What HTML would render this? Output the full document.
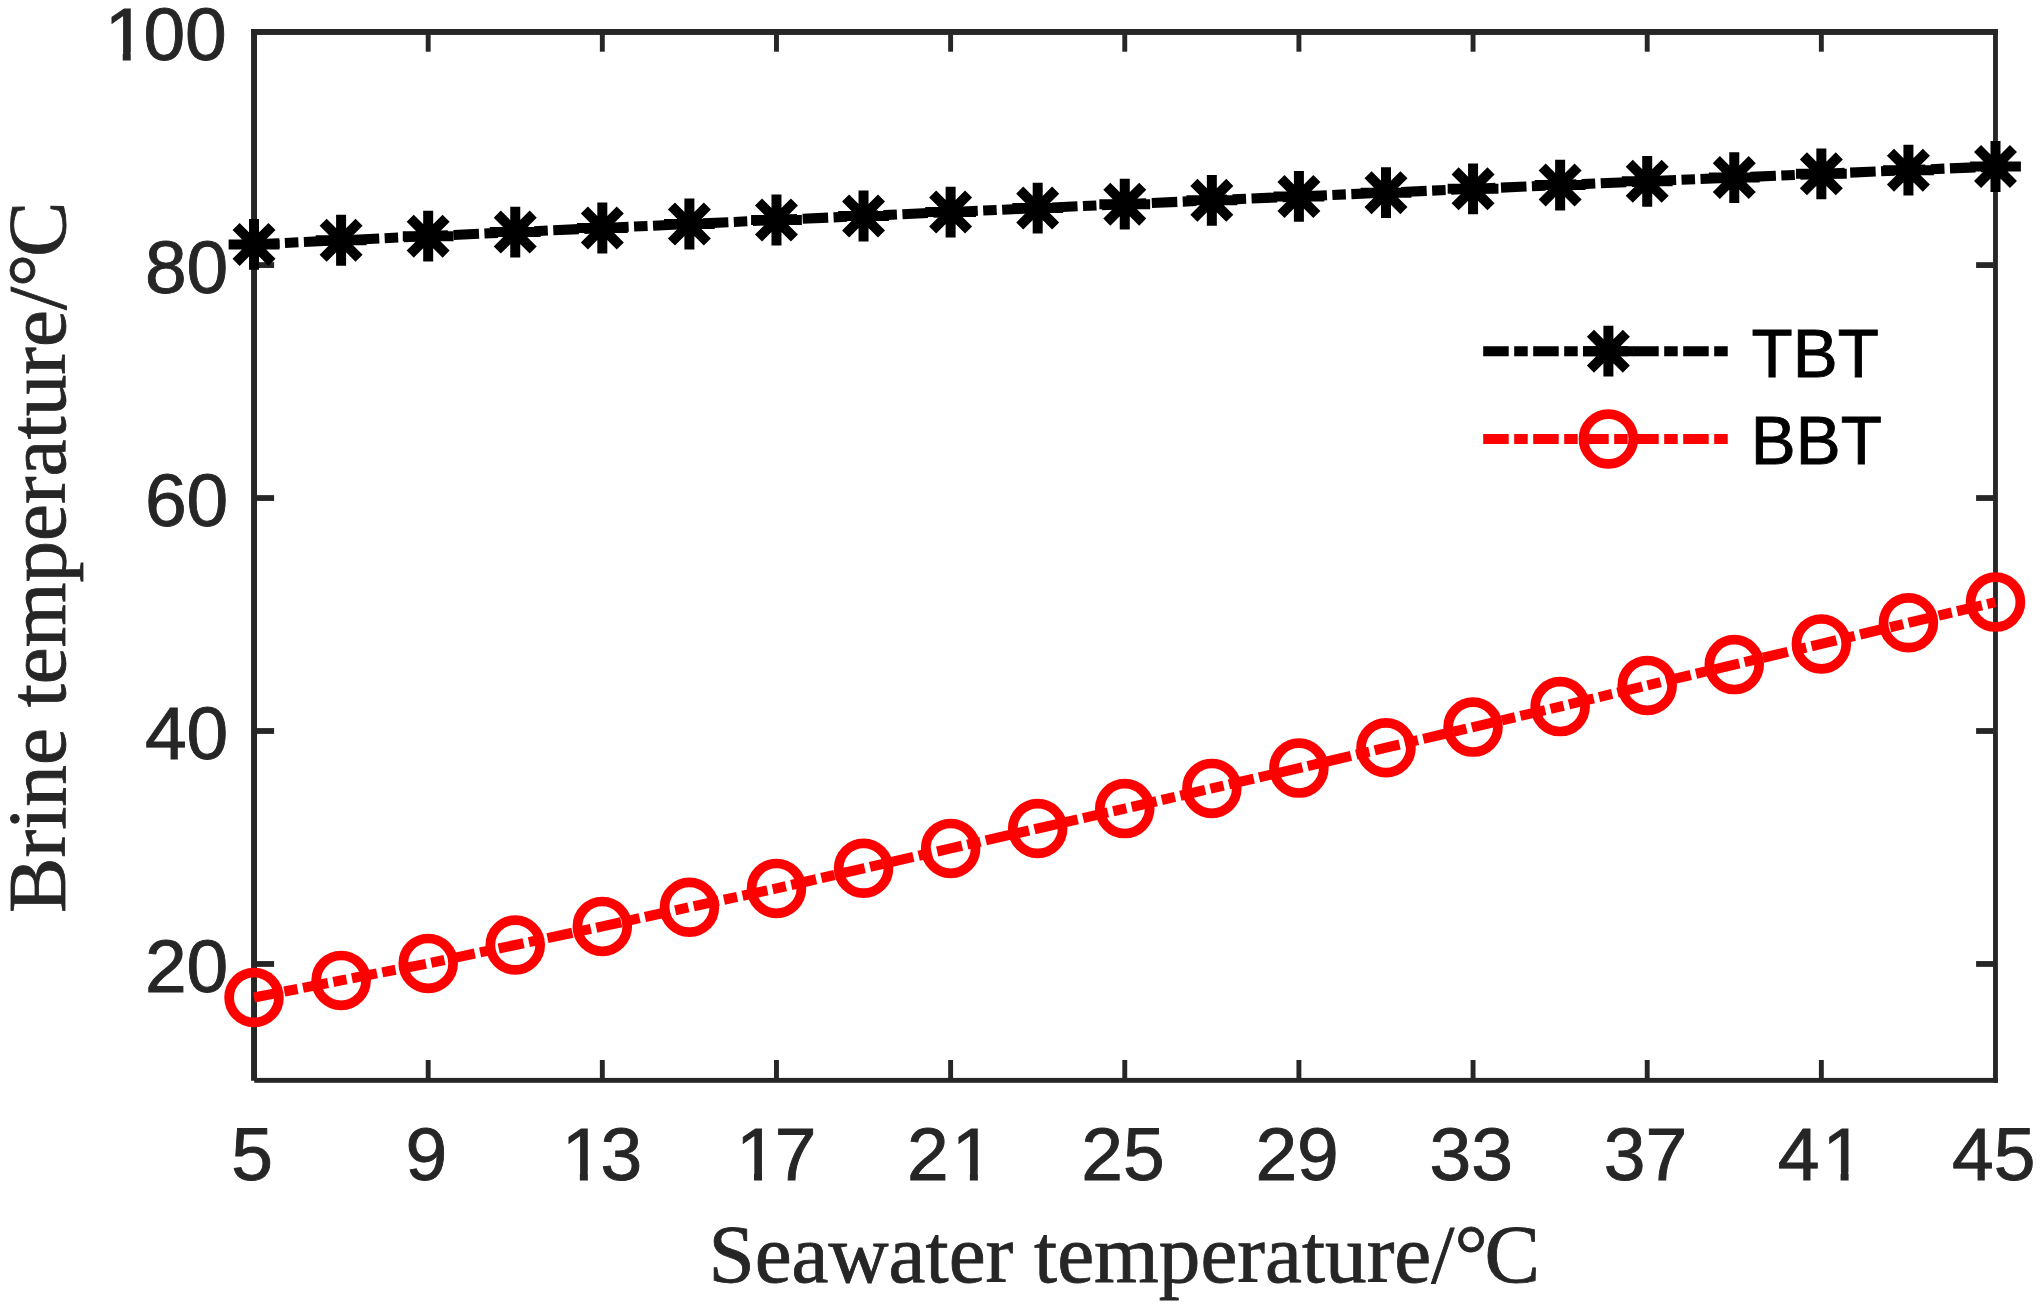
<!DOCTYPE html>
<html lang="en"><head><meta charset="utf-8"><title>Brine temperature vs seawater temperature</title>
<style>html,body{margin:0;padding:0;background:#fff}body{width:2044px;height:1310px;overflow:hidden}svg{display:block}.t{font-family:"Liberation Sans",Arial,Helvetica,sans-serif;font-size:75px;fill:#262626;stroke:#262626;stroke-width:0.9px}.l{font-family:"Liberation Sans",Arial,Helvetica,sans-serif;font-size:66.7px;fill:#000;stroke:#000;stroke-width:0.9px}.s{font-family:"Liberation Serif","Times New Roman",Times,serif;font-size:83.2px;fill:#262626;stroke:#262626;stroke-width:0.8px}</style></head><body>
<svg width="2044" height="1310" viewBox="0 0 2044 1310">
<rect x="0" y="0" width="2044" height="1310" fill="#fff"/>
<g fill="#262626" stroke="none">
<rect x="251.06" y="29.00" width="1746.84" height="5.95"/>
<rect x="251.06" y="29.00" width="5.94" height="1051.75"/>
<rect x="254.20" y="1077.90" width="1743.70" height="4.90"/>
<rect x="1993.05" y="29.00" width="4.85" height="1053.80"/>
<rect x="425.73" y="1060.00" width="4.90" height="18.50"/>
<rect x="425.73" y="34.50" width="4.90" height="17.20"/>
<rect x="599.87" y="1060.00" width="4.90" height="18.50"/>
<rect x="599.87" y="34.50" width="4.90" height="17.20"/>
<rect x="774.02" y="1060.00" width="4.90" height="18.50"/>
<rect x="774.02" y="34.50" width="4.90" height="17.20"/>
<rect x="948.17" y="1060.00" width="4.90" height="18.50"/>
<rect x="948.17" y="34.50" width="4.90" height="17.20"/>
<rect x="1122.32" y="1060.00" width="4.90" height="18.50"/>
<rect x="1122.32" y="34.50" width="4.90" height="17.20"/>
<rect x="1296.46" y="1060.00" width="4.90" height="18.50"/>
<rect x="1296.46" y="34.50" width="4.90" height="17.20"/>
<rect x="1470.61" y="1060.00" width="4.90" height="18.50"/>
<rect x="1470.61" y="34.50" width="4.90" height="17.20"/>
<rect x="1644.76" y="1060.00" width="4.90" height="18.50"/>
<rect x="1644.76" y="34.50" width="4.90" height="17.20"/>
<rect x="1818.90" y="1060.00" width="4.90" height="18.50"/>
<rect x="1818.90" y="34.50" width="4.90" height="17.20"/>
<rect x="256.50" y="961.07" width="17.60" height="5.80"/>
<rect x="1976.10" y="961.07" width="17.40" height="5.80"/>
<rect x="256.50" y="728.10" width="17.60" height="5.80"/>
<rect x="1976.10" y="728.10" width="17.40" height="5.80"/>
<rect x="256.50" y="495.13" width="17.60" height="5.80"/>
<rect x="1976.10" y="495.13" width="17.40" height="5.80"/>
<rect x="256.50" y="262.17" width="17.60" height="5.80"/>
<rect x="1976.10" y="262.17" width="17.40" height="5.80"/>
</g>
<text class="t" transform="translate(0,1180.20) scale(1,1)" x="231.37" y="0">5</text>
<text class="t" transform="translate(0,1180.20) scale(1,1)" x="405.52" y="0">9</text>
<text class="t" transform="translate(0,1180.20) scale(1,1)" x="561.81 600.52" y="0">13</text>
<rect x="564.31" y="1172.20" width="15.55" height="9.6" fill="#fff"/>
<rect x="587.86" y="1172.20" width="15.50" height="9.6" fill="#fff"/>
<text class="t" transform="translate(0,1180.20) scale(1,1)" x="735.96 774.67" y="0">17</text>
<rect x="738.46" y="1172.20" width="15.55" height="9.6" fill="#fff"/>
<rect x="762.01" y="1172.20" width="15.50" height="9.6" fill="#fff"/>
<text class="t" transform="translate(0,1180.20) scale(1,1)" x="907.11 951.82" y="0">21</text>
<rect x="954.32" y="1172.20" width="15.55" height="9.6" fill="#fff"/>
<rect x="977.87" y="1172.20" width="15.50" height="9.6" fill="#fff"/>
<text class="t" transform="translate(0,1180.20) scale(1,1)" x="1081.25 1122.97" y="0">25</text>
<text class="t" transform="translate(0,1180.20) scale(1,1)" x="1255.40 1297.11" y="0">29</text>
<text class="t" transform="translate(0,1180.20) scale(1,1)" x="1429.55 1471.26" y="0">33</text>
<text class="t" transform="translate(0,1180.20) scale(1,1)" x="1603.69 1645.41" y="0">37</text>
<text class="t" transform="translate(0,1180.20) scale(1,1)" x="1777.84 1822.55" y="0">41</text>
<rect x="1825.05" y="1172.20" width="15.55" height="9.6" fill="#fff"/>
<rect x="1848.60" y="1172.20" width="15.50" height="9.6" fill="#fff"/>
<text class="t" transform="translate(0,1180.20) scale(1,1)" x="1951.99 1993.70" y="0">45</text>
<text class="t" transform="translate(0,991.87) scale(1,1)" x="144.88 186.59" y="0">20</text>
<text class="t" transform="translate(0,758.90) scale(1,1)" x="144.88 186.59" y="0">40</text>
<text class="t" transform="translate(0,525.93) scale(1,1)" x="144.88 186.59" y="0">60</text>
<text class="t" transform="translate(0,292.97) scale(1,1)" x="144.88 186.59" y="0">80</text>
<text class="t" transform="translate(0,60.00) scale(1,1)" x="104.67 143.38 185.09" y="0">100</text>
<rect x="107.17" y="52.00" width="15.55" height="9.6" fill="#fff"/>
<rect x="130.72" y="52.00" width="15.50" height="9.6" fill="#fff"/>
<text class="s" x="1124.2" y="1282.0" text-anchor="middle">Seawater temperature/°<tspan dx="-3.2">C</tspan></text>
<text class="s" transform="translate(65.2,557.2) rotate(-90)" text-anchor="middle">Brine temperature/°<tspan dx="-3.2">C</tspan></text>
<polyline points="254.03,244.40 341.10,240.27 428.18,236.16 515.25,232.08 602.32,228.02 689.40,223.99 776.47,219.98 863.54,216.00 950.62,212.04 1037.69,208.11 1124.76,204.20 1211.84,200.32 1298.91,196.46 1385.99,192.63 1473.06,188.82 1560.13,185.04 1647.21,181.28 1734.28,177.55 1821.35,173.84 1908.43,170.16 1995.50,166.50" fill="none" stroke="#000" stroke-width="10.10" stroke-dasharray="25.5 5.43 13.5 5.5"/>
<polyline points="254.03,997.50 341.10,980.40 428.18,963.40 515.25,945.00 602.32,926.40 689.40,907.20 776.47,888.40 863.54,868.30 950.62,848.40 1037.69,828.50 1124.76,808.60 1211.84,788.40 1298.91,768.10 1385.99,747.70 1473.06,727.10 1560.13,706.60 1647.21,685.40 1734.28,664.60 1821.35,643.90 1908.43,622.80 1995.50,602.10" fill="none" stroke="#f00" stroke-width="10.10" stroke-dasharray="25.5 5.4 13.5 5.5"/>
<path d="M228.63 244.40H279.43M254.03 219.00V269.80M236.07 226.44L271.99 262.36M236.07 262.36L271.99 226.44" stroke="#000" stroke-width="10.00" fill="none"/>
<path d="M315.70 240.27H366.50M341.10 214.87V265.67M323.14 222.31L359.06 258.23M323.14 258.23L359.06 222.31" stroke="#000" stroke-width="10.00" fill="none"/>
<path d="M402.78 236.16H453.58M428.18 210.76V261.56M410.22 218.20L446.14 254.12M410.22 254.12L446.14 218.20" stroke="#000" stroke-width="10.00" fill="none"/>
<path d="M489.85 232.08H540.65M515.25 206.68V257.48M497.29 214.12L533.21 250.04M497.29 250.04L533.21 214.12" stroke="#000" stroke-width="10.00" fill="none"/>
<path d="M576.92 228.02H627.72M602.32 202.62V253.42M584.36 210.06L620.28 245.98M584.36 245.98L620.28 210.06" stroke="#000" stroke-width="10.00" fill="none"/>
<path d="M664.00 223.99H714.80M689.40 198.59V249.39M671.44 206.03L707.36 241.95M671.44 241.95L707.36 206.03" stroke="#000" stroke-width="10.00" fill="none"/>
<path d="M751.07 219.98H801.87M776.47 194.58V245.38M758.51 202.02L794.43 237.94M758.51 237.94L794.43 202.02" stroke="#000" stroke-width="10.00" fill="none"/>
<path d="M838.14 216.00H888.94M863.54 190.60V241.40M845.58 198.04L881.51 233.96M845.58 233.96L881.51 198.04" stroke="#000" stroke-width="10.00" fill="none"/>
<path d="M925.22 212.04H976.02M950.62 186.64V237.44M932.66 194.08L968.58 230.00M932.66 230.00L968.58 194.08" stroke="#000" stroke-width="10.00" fill="none"/>
<path d="M1012.29 208.11H1063.09M1037.69 182.71V233.51M1019.73 190.15L1055.65 226.07M1019.73 226.07L1055.65 190.15" stroke="#000" stroke-width="10.00" fill="none"/>
<path d="M1099.36 204.20H1150.16M1124.76 178.80V229.60M1106.80 186.24L1142.73 222.16M1106.80 222.16L1142.73 186.24" stroke="#000" stroke-width="10.00" fill="none"/>
<path d="M1186.44 200.32H1237.24M1211.84 174.92V225.72M1193.88 182.36L1229.80 218.28M1193.88 218.28L1229.80 182.36" stroke="#000" stroke-width="10.00" fill="none"/>
<path d="M1273.51 196.46H1324.31M1298.91 171.06V221.86M1280.95 178.50L1316.87 214.42M1280.95 214.42L1316.87 178.50" stroke="#000" stroke-width="10.00" fill="none"/>
<path d="M1360.59 192.63H1411.39M1385.99 167.23V218.03M1368.02 174.67L1403.95 210.59M1368.02 210.59L1403.95 174.67" stroke="#000" stroke-width="10.00" fill="none"/>
<path d="M1447.66 188.82H1498.46M1473.06 163.42V214.22M1455.10 170.86L1491.02 206.78M1455.10 206.78L1491.02 170.86" stroke="#000" stroke-width="10.00" fill="none"/>
<path d="M1534.73 185.04H1585.53M1560.13 159.64V210.44M1542.17 167.08L1578.09 203.00M1542.17 203.00L1578.09 167.08" stroke="#000" stroke-width="10.00" fill="none"/>
<path d="M1621.81 181.28H1672.61M1647.21 155.88V206.68M1629.25 163.32L1665.17 199.24M1629.25 199.24L1665.17 163.32" stroke="#000" stroke-width="10.00" fill="none"/>
<path d="M1708.88 177.55H1759.68M1734.28 152.15V202.95M1716.32 159.59L1752.24 195.51M1716.32 195.51L1752.24 159.59" stroke="#000" stroke-width="10.00" fill="none"/>
<path d="M1795.95 173.84H1846.75M1821.35 148.44V199.24M1803.39 155.88L1839.31 191.80M1803.39 191.80L1839.31 155.88" stroke="#000" stroke-width="10.00" fill="none"/>
<path d="M1883.03 170.16H1933.83M1908.43 144.76V195.56M1890.47 152.20L1926.39 188.12M1890.47 188.12L1926.39 152.20" stroke="#000" stroke-width="10.00" fill="none"/>
<path d="M1970.10 166.50H2020.90M1995.50 141.10V191.90M1977.54 148.54L2013.46 184.46M1977.54 184.46L2013.46 148.54" stroke="#000" stroke-width="10.00" fill="none"/>
<circle cx="254.03" cy="997.50" r="24.90" fill="none" stroke="#f00" stroke-width="9.70"/>
<circle cx="341.10" cy="980.40" r="24.90" fill="none" stroke="#f00" stroke-width="9.70"/>
<circle cx="428.18" cy="963.40" r="24.90" fill="none" stroke="#f00" stroke-width="9.70"/>
<circle cx="515.25" cy="945.00" r="24.90" fill="none" stroke="#f00" stroke-width="9.70"/>
<circle cx="602.32" cy="926.40" r="24.90" fill="none" stroke="#f00" stroke-width="9.70"/>
<circle cx="689.40" cy="907.20" r="24.90" fill="none" stroke="#f00" stroke-width="9.70"/>
<circle cx="776.47" cy="888.40" r="24.90" fill="none" stroke="#f00" stroke-width="9.70"/>
<circle cx="863.54" cy="868.30" r="24.90" fill="none" stroke="#f00" stroke-width="9.70"/>
<circle cx="950.62" cy="848.40" r="24.90" fill="none" stroke="#f00" stroke-width="9.70"/>
<circle cx="1037.69" cy="828.50" r="24.90" fill="none" stroke="#f00" stroke-width="9.70"/>
<circle cx="1124.76" cy="808.60" r="24.90" fill="none" stroke="#f00" stroke-width="9.70"/>
<circle cx="1211.84" cy="788.40" r="24.90" fill="none" stroke="#f00" stroke-width="9.70"/>
<circle cx="1298.91" cy="768.10" r="24.90" fill="none" stroke="#f00" stroke-width="9.70"/>
<circle cx="1385.99" cy="747.70" r="24.90" fill="none" stroke="#f00" stroke-width="9.70"/>
<circle cx="1473.06" cy="727.10" r="24.90" fill="none" stroke="#f00" stroke-width="9.70"/>
<circle cx="1560.13" cy="706.60" r="24.90" fill="none" stroke="#f00" stroke-width="9.70"/>
<circle cx="1647.21" cy="685.40" r="24.90" fill="none" stroke="#f00" stroke-width="9.70"/>
<circle cx="1734.28" cy="664.60" r="24.90" fill="none" stroke="#f00" stroke-width="9.70"/>
<circle cx="1821.35" cy="643.90" r="24.90" fill="none" stroke="#f00" stroke-width="9.70"/>
<circle cx="1908.43" cy="622.80" r="24.90" fill="none" stroke="#f00" stroke-width="9.70"/>
<circle cx="1995.50" cy="602.10" r="24.90" fill="none" stroke="#f00" stroke-width="9.70"/>
<path d="M1483.20 351.20H1733.00" stroke="#000" stroke-width="10.10" fill="none" stroke-dasharray="25.5 5.5 13.5 5.5"/>
<path d="M1483.20 439.00H1733.00" stroke="#f00" stroke-width="10.10" fill="none" stroke-dasharray="25.5 5.5 13.5 5.5"/>
<path d="M1583.00 351.20H1633.80M1608.40 325.80V376.60M1590.44 333.24L1626.36 369.16M1590.44 369.16L1626.36 333.24" stroke="#000" stroke-width="10.00" fill="none"/>
<circle cx="1608.4" cy="439.0" r="24.9" fill="none" stroke="#f00" stroke-width="9.7"/>
<text class="l" transform="translate(1751.6,377.0) scale(1.01,1.03)">TBT</text>
<text class="l" transform="translate(1750.8,463.9) scale(1.01,1.03)">BBT</text>
</svg></body></html>
